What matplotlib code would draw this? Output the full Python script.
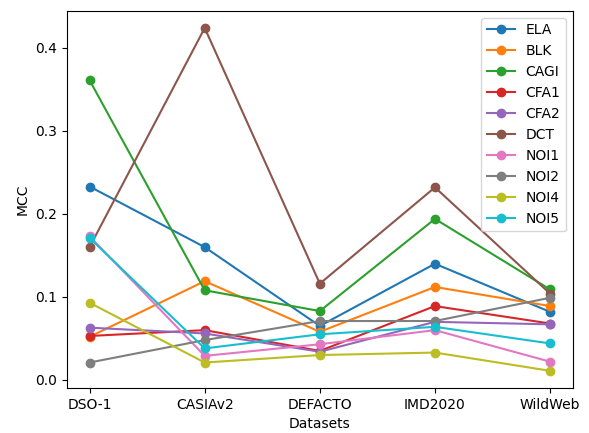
import matplotlib
matplotlib.use("Agg")
import matplotlib.pyplot as plt

datasets = ["DSO-1", "CASIAv2", "DEFACTO", "IMD2020", "WildWeb"]

ela = [0.233, 0.160, 0.065, 0.140, 0.082]
blk = [0.052, 0.119, 0.058, 0.112, 0.089]
cagi = [0.361, 0.108, 0.083, 0.194, 0.109]
cfa1 = [0.053, 0.060, 0.035, 0.089, 0.068]
cfa2 = [0.063, 0.056, 0.034, 0.070, 0.067]
dct = [0.160, 0.424, 0.116, 0.232, 0.104]
noi1 = [0.173, 0.029, 0.043, 0.060, 0.022]
noi2 = [0.021, 0.048, 0.071, 0.071, 0.099]
noi4 = [0.093, 0.021, 0.030, 0.033, 0.011]
noi5 = [0.171, 0.038, 0.055, 0.064, 0.044]

methods = ["ELA", "BLK", "CAGI", "CFA1", "CFA2", "DCT", "NOI1", "NOI2", "NOI4", "NOI5"]
values = [ela, blk, cagi, cfa1, cfa2, dct, noi1, noi2, noi4, noi5]

fig, ax = plt.subplots(figsize=(5.89, 4.33), dpi=100)
fig.subplots_adjust(left=0.113, right=0.973, top=0.975, bottom=0.104)

for name, vals in zip(methods, values):
    ax.plot(datasets, vals, marker='o', lw=1.5, markersize=6, label=name)

ax.set_xlabel('Datasets')
ax.set_ylabel('MCC')
ax.legend(loc='upper right')

fig.savefig('out.png', dpi=100)
